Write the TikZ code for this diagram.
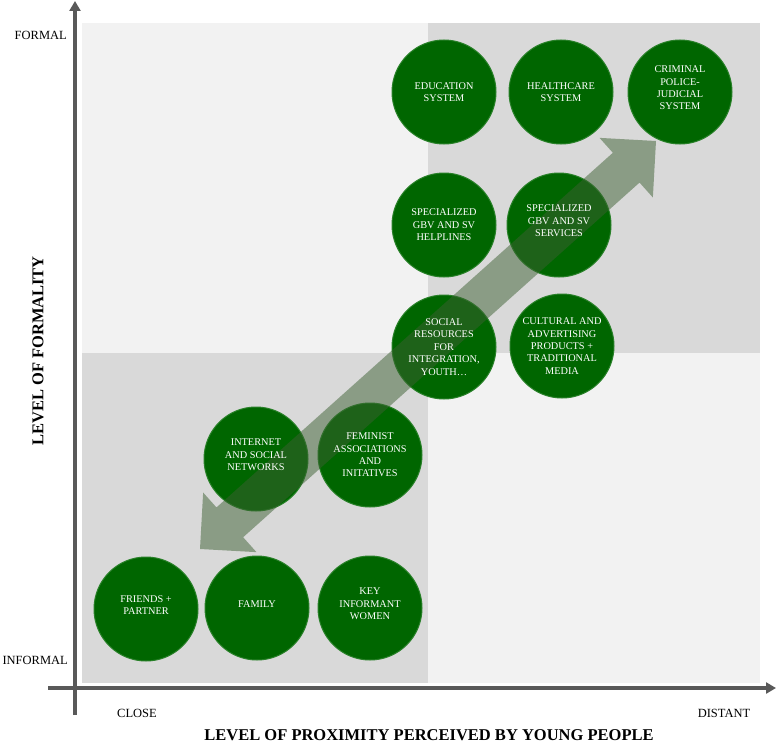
\documentclass[tikz,border=0pt]{standalone}
\usepackage{fontspec}
\setmainfont{Liberation Serif}
\usetikzlibrary{arrows.meta, calc}
\definecolor{verde}{RGB}{0, 102, 0}
\definecolor{borda}{RGB}{40, 128, 40}
\definecolor{cinzaclaro}{RGB}{242, 242, 242}
\definecolor{cinzaescuro}{RGB}{217, 217, 217}
\definecolor{eixocor}{RGB}{89, 89, 89}
\definecolor{setacor}{RGB}{60, 96, 50}

\begin{document}
\begin{tikzpicture}[
    x=1bp, y=-1bp,
    recurso/.style={
        circle,
        fill=verde,
        draw=borda,
        line width=1bp,
        minimum size=104bp,
        inner sep=0pt
    },
    texto/.style={
        text=white,
        align=center,
        font=\fontsize{10.3bp}{12.4bp}\selectfont
    },
    eixo/.style={
        draw=eixocor,
        line width=4bp,
        -{Triangle[length=10bp, width=11bp]}
    },
    rotulo/.style={
        font=\fontsize{12.5bp}{15bp}\selectfont,
        inner sep=1bp
    },
    titulo/.style={
        font=\bfseries\fontsize{16.5bp}{19bp}\selectfont,
        inner sep=1bp
    }
]

\useasboundingbox (0,0) rectangle (777,744);

% =================================================
% QUADRANTES
% =================================================

\fill[cinzaclaro] (82,23) rectangle (760,683);
\fill[cinzaescuro] (428,23) rectangle (760,353);
\fill[cinzaescuro] (82,353) rectangle (428,683);

% =================================================
% EIXOS
% =================================================

\coordinate (ybase) at (75,715);
\coordinate (ytopo) at (75,1);
\coordinate (xbase) at (48,688);
\coordinate (xfim) at (776,688);

\draw[eixo] (ybase) -- (ytopo);
\draw[eixo] (xbase) -- (xfim);

\node[rotulo, anchor=east] (formal) at (68,35) {FORMAL};
\node[rotulo, anchor=east] (informal) at (69,660) {INFORMAL};
\node[rotulo] (close) at (137,713) {CLOSE};
\node[rotulo] (distant) at (724,713) {DISTANT};

\node[titulo, rotate=90] (formalidade) at (38,351)
{LEVEL OF FORMALITY};

\node[titulo] (proximidade) at (429,735)
{LEVEL OF PROXIMITY PERCEIVED BY YOUNG PEOPLE};

% =================================================
% RECURSOS
% =================================================

\node[recurso] (edu) at (444,92) {};
\node[recurso] (saude) at (561,92) {};
\node[recurso] (crim) at (680,92) {};

\node[recurso] (linhas) at (444,225) {};
\node[recurso] (servicos) at (559,225) {};

\node[recurso] (social) at (444,347) {};
\node[recurso] (cultura) at (562,346) {};

\node[recurso] (internet) at (256,459) {};
\node[recurso] (feminist) at (370,455) {};

\node[recurso] (amigos) at (146,609) {};
\node[recurso] (familia) at (257,608) {};
\node[recurso] (chave) at (370,608) {};

% =================================================
% SETA DUPLA
% =================================================

\coordinate (pa) at (200,549);
\coordinate (pb) at (656,141);
\coordinate (ca) at ($(pa)!40bp!(pb)$);
\coordinate (cb) at ($(pb)!40bp!(pa)$);

\fill[setacor, fill opacity=0.5]
    (pa) -- ($(ca)!40bp!90:(pb)$) -- ($(ca)!20bp!90:(pb)$)
    -- ($(cb)!20bp!-90:(pa)$) -- ($(cb)!40bp!-90:(pa)$)
    -- (pb) -- ($(cb)!40bp!90:(pa)$) -- ($(cb)!20bp!90:(pa)$)
    -- ($(ca)!20bp!-90:(pb)$) -- ($(ca)!40bp!-90:(pb)$) -- cycle;

% =================================================
% TEXTOS
% =================================================

\node[texto] at (edu) {EDUCATION\\SYSTEM};
\node[texto] at (saude) {HEALTHCARE\\SYSTEM};
\node[texto] at ($(crim)+(0,-4)$) {CRIMINAL\\POLICE-\\JUDICIAL\\SYSTEM};
\node[texto] at (linhas) {SPECIALIZED\\GBV AND SV\\HELPLINES};
\node[texto] at ($(servicos)+(0,-4)$) {SPECIALIZED\\GBV AND SV\\SERVICES};
\node[texto] at (social) {SOCIAL\\RESOURCES\\FOR\\INTEGRATION,\\YOUTH\ldots};
\node[texto] at (cultura) {CULTURAL AND\\ADVERTISING\\PRODUCTS +\\TRADITIONAL\\MEDIA};
\node[texto] at ($(internet)+(0,-4)$) {INTERNET\\AND SOCIAL\\NETWORKS};
\node[texto] at (feminist) {FEMINIST\\ASSOCIATIONS\\AND\\INITATIVES};
\node[texto] at ($(amigos)+(0,-4)$) {FRIENDS +\\PARTNER};
\node[texto] at ($(familia)+(0,-4)$) {FAMILY};
\node[texto] at ($(chave)+(0,-4)$) {KEY\\INFORMANT\\WOMEN};

\end{tikzpicture}
\end{document}
